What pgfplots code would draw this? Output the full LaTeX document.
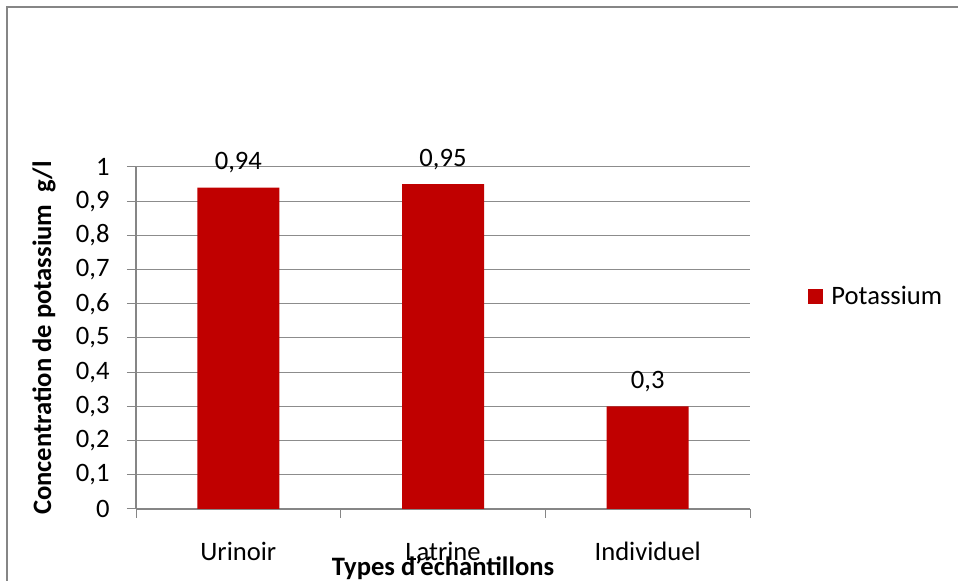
\documentclass[border=0pt]{standalone}
\usepackage{fontspec}
\setmainfont{Carlito}
\usepackage{pgfplots}
\pgfplotsset{compat=1.18}
\definecolor{barred}{HTML}{C00000}
\definecolor{gridgray}{HTML}{8C8C8C}
\definecolor{framegray}{HTML}{868686}

\begin{document}
\fontsize{13.3}{16}\selectfont
\begin{tikzpicture}
\useasboundingbox (0,0) rectangle (479pt,290.5pt);
\clip (0,0) rectangle (479pt,290.5pt);
% outer chart frame
\draw[framegray, line width=1.2pt] (3.5pt,-5pt) -- (3.5pt,287pt) -- (485pt,287pt);
\begin{axis}[
  at={(68pt,36pt)}, anchor=south west,
  scale only axis, width=307pt, height=171pt,
  ybar, bar width=41pt,
  xmin=-0.5, xmax=2.5, ymin=0, ymax=1,
  axis lines*=left,
  axis line style={-, framegray, line width=0.6pt},
  /pgf/number format/assume math mode=true,
  ytick={0,0.1,0.2,0.3,0.4,0.5,0.6,0.7,0.8,0.9,1},
  yticklabel style={/pgf/number format/.cd, use comma, fixed, precision=1, /tikz/.cd,
    anchor=east, inner sep=0pt, xshift=-8.5pt},
  ymajorgrids,
  major grid style={gridgray, line width=0.5pt},
  ytick style={framegray, line width=0.5pt},
  major tick length=4.5pt,
  tick align=outside,
  xtick={0,1,2},
  xticklabels={Urinoir,Latrine,Individuel},
  xtick style={draw=none},
  xticklabel style={anchor=base, inner sep=0pt, yshift=-21.5pt},
  extra x ticks={-0.5,0.5,1.5,2.5},
  extra x tick labels={},
  extra x tick style={grid=none, xtick style={draw=framegray, line width=0.5pt}},
  xlabel={\bfseries Types d'échantillons},
  xlabel style={at={(axis description cs:0.5,0)}, anchor=base, inner sep=0pt, yshift=-33.5pt},
  ylabel={\bfseries Concentration de potassium\ \ g/l},
  ylabel style={at={(axis description cs:-0.1498,0.5)}, anchor=center, inner sep=0pt},
  nodes near coords,
  nodes near coords style={/pgf/number format/use comma, anchor=base, inner sep=0pt, yshift=9pt, black},
  legend style={at={(axis description cs:1.0945,0.62)}, anchor=west, draw=none, fill=none,
    inner sep=0pt, nodes={inner sep=0pt, anchor=west},
    /tikz/every odd column/.append style={column sep=4pt}},
  legend image code/.code={\fill[barred] (0pt,-3.75pt) rectangle (7.5pt,3.75pt);},
]
\addplot[fill=barred, draw=none] coordinates {(0,0.94) (1,0.95) (2,0.3)};
\addlegendentry{Potassium}
\end{axis}
\end{tikzpicture}
\end{document}
